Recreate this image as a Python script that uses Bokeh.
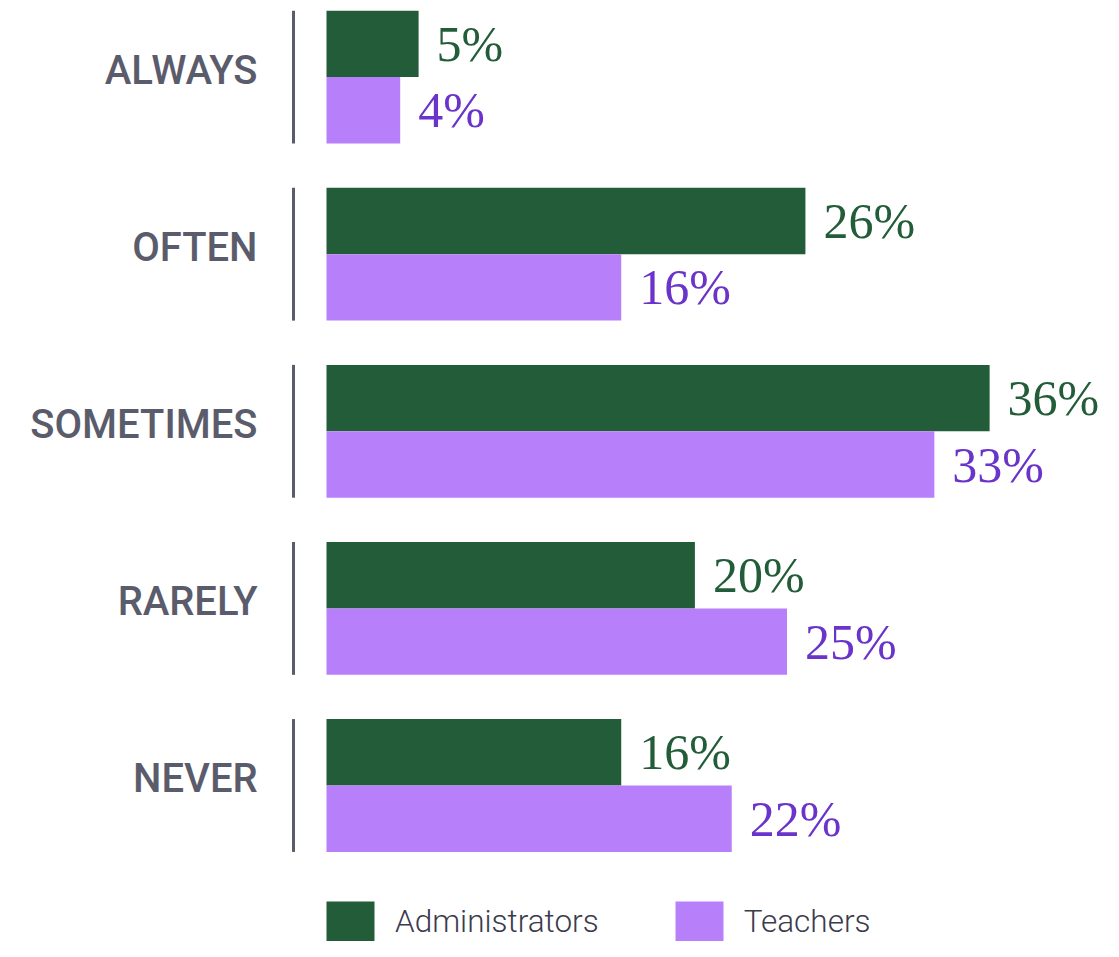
from bokeh.plotting import figure
from bokeh.models import Range1d, ColumnDataSource, Legend, LegendItem
from bokeh.transform import dodge
from bokeh.core.properties import value
from bokeh.embed import file_html
from bokeh.resources import INLINE

# ---- data ----
categories = ["ALWAYS", "OFTEN", "SOMETIMES", "RARELY", "NEVER"]
series = ["Administrators", "Teachers"]
administrators = [5, 26, 36, 20, 16]
teachers = [4, 16, 33, 25, 22]

# ---- style ----
GREEN = "#225c38"
PURPLE_BAR = "#b87ffa"
PURPLE_TXT = "#6a33c9"
GREY = "#5b5c6b"

W, H = 1103, 941
BAR_LEFT_PX = 326          # pixel position of value 0
PX_PER_UNIT = 18.42        # pixels per percentage point
GROUP_PX = 177.1           # pixels between group centres
BAR_H = 0.375              # bar thickness in group units
LAST_CENTER_FROM_BOTTOM = 156.0

n = len(categories)
pos = list(range(n - 1, -1, -1))   # first category at the top

y0 = -LAST_CENTER_FROM_BOTTOM / GROUP_PX
y_range = Range1d(y0, y0 + H / GROUP_PX)
x_range = Range1d(-BAR_LEFT_PX / PX_PER_UNIT, (W - BAR_LEFT_PX) / PX_PER_UNIT)

p = figure(width=W, height=H, x_range=x_range, y_range=y_range,
           output_backend="svg", toolbar_location=None,
           x_axis_location=None, y_axis_location=None,
           min_border_left=0, min_border_right=0, min_border_top=0,
           min_border_bottom=0)
p.outline_line_color = None
p.background_fill_color = "white"
p.border_fill_color = "white"
for g in p.grid:
    g.visible = False

src = ColumnDataSource(dict(
    pos=pos, cat=categories, zero=[0] * n,
    adm=administrators, tea=teachers,
    adm_lab=[f"{v}%" for v in administrators],
    tea_lab=[f"{v}%" for v in teachers],
))

r_adm = p.hbar(y=dodge("pos", BAR_H / 2), right="adm", left=0, height=BAR_H,
               source=src, fill_color=GREEN, line_color=None)
r_tea = p.hbar(y=dodge("pos", -BAR_H / 2), right="tea", left=0, height=BAR_H,
               source=src, fill_color=PURPLE_BAR, line_color=None)

# value labels
serif = value("Liberation Serif")
p.text(x="adm", y=dodge("pos", BAR_H / 2), text="adm_lab", source=src,
       x_offset=18, y_offset=0, text_font=serif, text_font_size="50px",
       text_color=GREEN, text_align="left", text_baseline="middle")
p.text(x="tea", y=dodge("pos", -BAR_H / 2), text="tea_lab", source=src,
       x_offset=18, y_offset=0, text_font=serif, text_font_size="50px",
       text_color=PURPLE_TXT, text_align="left", text_baseline="middle")

# separator line per group
sep_x = (293 - BAR_LEFT_PX) / PX_PER_UNIT
p.rect(x=sep_x, y="pos", source=src, width=3, width_units="screen",
       height=2 * BAR_H, fill_color=GREY, line_color=None)

# category labels
p.text(x="zero", y="pos", text="cat", source=src, x_offset=-69, y_offset=-7,
       text_font=value("Roboto Medium"), text_font_size="40px",
       text_color=GREY, text_align="right", text_baseline="middle")

# legend (bar legend glyphs are drawn with a 10% inset)
legend = Legend(items=[LegendItem(label="Administrators", renderers=[r_adm]),
                       LegendItem(label="Teachers", renderers=[r_tea])],
                orientation="horizontal", location=(BAR_LEFT_PX - 6, -5),
                glyph_width=60, glyph_height=50, label_standoff=15, spacing=70,
                padding=0, margin=0, border_line_alpha=0, background_fill_alpha=0,
                label_text_font="Roboto Light", label_text_font_size="31.5px",
                label_text_color="#3b3b4c")
p.add_layout(legend)

open("out.html", "w").write(file_html(p, INLINE))
